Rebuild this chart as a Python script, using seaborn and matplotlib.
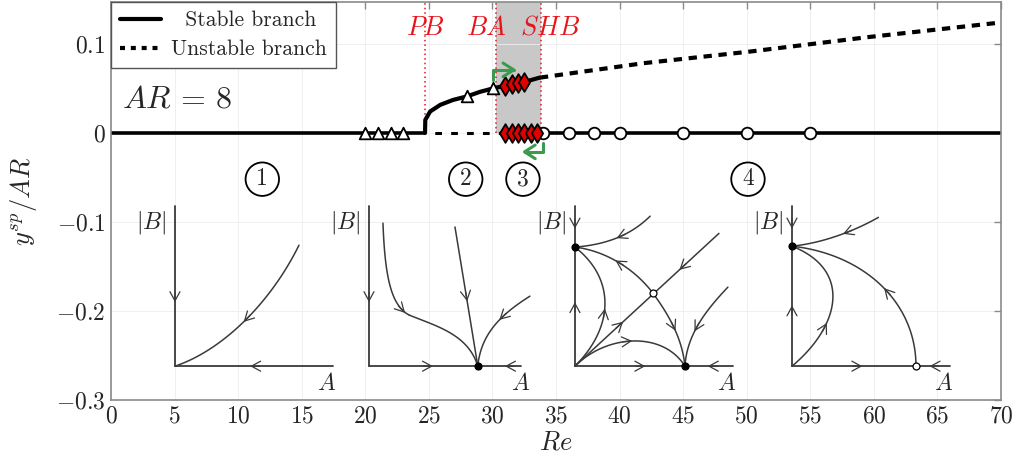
import numpy as np
import pandas as pd
import matplotlib
matplotlib.use("Agg")
import matplotlib.pyplot as plt
from matplotlib.lines import Line2D
from matplotlib.bezier import BezierSegment
import seaborn as sns

# ---------------- bifurcation diagram data: Re vs y_sp/AR ----------------
re_base_left = [0.0, 24.7]
y_base_left = [0.0, 0.0]
re_base_unstable = [24.7, 33.8]
y_base_unstable = [0.0, 0.0]
re_base_right = [33.8, 70.0]
y_base_right = [0.0, 0.0]

re_asym_stable = [24.7, 24.72, 25.1, 25.9, 26.9, 28.0, 29.0, 30.05, 31.0, 32.0, 32.6, 33.7]
y_asym_stable = [0.0, 0.0146, 0.024, 0.0315, 0.037, 0.041, 0.046, 0.050, 0.053, 0.056, 0.0576, 0.062]
re_asym_unstable = [33.7, 41.9, 50.3, 59.5, 70.0]
y_asym_unstable = [0.062, 0.0783, 0.0914, 0.1075, 0.124]

# simulation samples
re_tri_base = [20.0, 21.0, 22.0, 23.0]
y_tri_base = [0.0, 0.0, 0.0, 0.0]
re_tri_asym = [28.0, 30.05]
y_tri_asym = [0.041, 0.050]
re_dia_asym = [31.0, 31.5, 32.0, 32.5]
y_dia_asym = [0.053, 0.0545, 0.056, 0.057]
re_dia_base = [31.0, 31.5, 32.0, 32.5, 33.0, 33.5]
y_dia_base = [0.0, 0.0, 0.0, 0.0, 0.0, 0.0]
re_circ_base = [34.0, 36.0, 38.0, 40.0, 45.0, 50.0, 55.0]
y_circ_base = [0.0, 0.0, 0.0, 0.0, 0.0, 0.0, 0.0]

# bifurcation points
bif_names = ["PB", "BA", "SHB"]
bif_re = [24.7, 30.3, 33.8]
bif_label_re = [24.7, 29.5, 34.5]

region_labels = ["1", "2", "3", "4"]
region_re = [11.9, 27.9, 32.4, 50.1]

x_ticks = list(range(0, 71, 5))
y_ticks = [-0.3, -0.2, -0.1, 0.0, 0.1]

INK = "#3a3a3a"
RED = "#e8141c"
GREEN = "#3c9a4e"

sns.set_theme(style="white")
plt.rcParams.update({
    "font.family": "serif",
    "font.serif": ["cmr10", "DejaVu Serif"],
    "mathtext.fontset": "cm",
    "axes.formatter.use_mathtext": True,
    "axes.unicode_minus": True,
})

fig = plt.figure(figsize=(10.25, 4.65), dpi=100)
ax = fig.add_axes([111 / 1025, 65 / 465, 890 / 1025, 398 / 465])
ax.set_xlim(0, 70)
ax.set_ylim(-0.3, 0.147)

ax.set_xticks(x_ticks)
ax.set_yticks(y_ticks)
ax.set_yticklabels(["$-0.3$", "$-0.2$", "$-0.1$", "$0$", "$0.1$"])
ax.set_xticklabels([f"${t}$" for t in x_ticks])
ax.tick_params(direction="in", top=True, right=True, length=5, width=1,
               color="#8a8a8a", labelsize=17, pad=4)
ax.grid(True, color="#ececec", lw=0.6)
for s in ax.spines.values():
    s.set_color("#8a8a8a")
    s.set_linewidth(1.2)

# shaded bistable window and bifurcation markers
top = ax.get_ylim()[1]
ax.fill_between([bif_re[1], bif_re[2]], 0, top, color="#c8c8c8", lw=0, zorder=0.5)
ax.vlines(bif_re, 0, top, colors=RED, linestyles=(0, (1, 2)), lw=1.1, zorder=0.6)
for name, xr in zip(bif_names, bif_label_re):
    ax.text(xr, 0.118, f"${name}$", color=RED, fontsize=19, ha="center", va="center")

# branches
def branch(xs, ys, **kw):
    df = pd.DataFrame({"Re": xs, "y": ys})
    sns.lineplot(data=df, x="Re", y="y", ax=ax, color="black", estimator=None,
                 sort=False, errorbar=None, legend=False, **kw)

solid = dict(linewidth=2.6, solid_capstyle="butt")
branch(re_base_left, y_base_left, zorder=2, **solid)
branch(re_base_right, y_base_right, zorder=2, **solid)
branch(re_asym_stable, y_asym_stable, zorder=2, linewidth=3.0)
branch(re_base_unstable, y_base_unstable, zorder=2, linewidth=2.2, linestyle=(2, (2.2, 3.0)))
branch(re_asym_unstable, y_asym_unstable, zorder=2, linewidth=3.0, linestyle=(3.5, (2.0, 1.6)))

# simulation markers
def markers(xs, ys, marker, face, s):
    sns.scatterplot(x=xs, y=ys, ax=ax, marker=marker, s=s, color=face,
                    edgecolor="black", linewidth=1.3, zorder=4, legend=False)

markers(re_tri_base, y_tri_base, "^", "white", 70)
markers(re_tri_asym, y_tri_asym, "^", "white", 70)
markers(re_circ_base, y_circ_base, "o", "white", 70)
markers(re_dia_base, y_dia_base, "d", "#e00000", 90)
markers(re_dia_asym, y_dia_asym, "d", "#e00000", 90)

# hysteresis arrows
ax.annotate("", xy=(31.9, 0.0708), xytext=(30.05, 0.0596),
            arrowprops=dict(arrowstyle="->,head_length=0.55,head_width=0.35", color=GREEN, lw=2.2,
                            connectionstyle="angle,angleA=90,angleB=0,rad=0",
                            shrinkA=0, shrinkB=0, mutation_scale=14), zorder=5)
ax.annotate("", xy=(32.3, -0.0213), xytext=(34.0, -0.0112),
            arrowprops=dict(arrowstyle="->,head_length=0.55,head_width=0.35", color=GREEN, lw=2.2,
                            connectionstyle="angle,angleA=90,angleB=0,rad=0",
                            shrinkA=0, shrinkB=0, mutation_scale=14), zorder=5)

ax.text(0.9, 0.037, "$AR\\,=\\,8$", fontsize=23, ha="left", va="center")

for lab, xr in zip(region_labels, region_re):
    ax.text(xr, -0.052, lab, fontsize=17, ha="center", va="center",
            bbox=dict(boxstyle="circle,pad=0.24", fc="none", ec="black", lw=1.3))

ax.set_xlabel("$Re$", fontsize=19, labelpad=2)
ax.set_ylabel("$y^{sp}/AR$", fontsize=19, labelpad=12)

handles = [Line2D([], [], color="black", lw=3.0),
           Line2D([], [], color="black", lw=3.0, ls=(0, (1.2, 1.4)))]
leg = ax.legend(handles, ["  Stable branch", "Unstable branch"], loc="upper left",
                bbox_to_anchor=(0, 1), borderaxespad=0, fontsize=15.5, handlelength=1.9,
                handletextpad=0.5, borderpad=0.4, labelspacing=0.45, fancybox=False,
                framealpha=1)
leg.get_frame().set_edgecolor("#555555")
leg.get_frame().set_linewidth(1.0)
leg.set_zorder(6)

# ---------------- phase portraits in the (A, |B|) plane ----------------
inset_origin_re = [5.03, 20.29, 36.49, 53.56]
inset_origin_y = -0.262
unit_re = 160 * 70 / 890
unit_y = 160 * 0.447 / 398


def make_inset(ore):
    x0, x1, y0, y1 = -0.3, 1.15, -0.2, 1.1
    iax = ax.inset_axes([ore + x0 * unit_re, inset_origin_y + y0 * unit_y,
                         (x1 - x0) * unit_re, (y1 - y0) * unit_y], transform=ax.transData)
    iax.set_xlim(x0, x1)
    iax.set_ylim(y0, y1)
    iax.set_axis_off()
    iax.patch.set_visible(False)
    iax.set_zorder(3)
    return iax


def chevron(iax, p, d, size=0.03):
    d = np.asarray(d, float)
    d = d / np.hypot(*d)
    p = np.asarray(p, float)
    iax.annotate("", xy=p + size * d, xytext=p - size * d,
                 arrowprops=dict(arrowstyle="->,head_length=0.55,head_width=0.3", color=INK,
                                 lw=0.9, shrinkA=0, shrinkB=0, mutation_scale=12))


def curve(iax, ctrl, arrows=()):
    seg = BezierSegment(np.asarray(ctrl, float))
    pts = seg(np.linspace(0, 1, 80))
    iax.plot(pts[:, 0], pts[:, 1], color=INK, lw=1.1, solid_capstyle="round")
    for t, sgn in arrows:
        d = seg(np.array([t + 0.01]))[0] - seg(np.array([t - 0.01]))[0]
        chevron(iax, seg(np.array([t]))[0], sgn * d)


def frame(iax, xend, v_arrows, h_arrows):
    iax.plot([0, 0], [0, 1.0], color=INK, lw=1.3)
    iax.plot([0, xend], [0, 0], color=INK, lw=1.3)
    for y, sgn in v_arrows:
        chevron(iax, (0, y), (0, sgn))
    for x, sgn in h_arrows:
        chevron(iax, (x, 0), (sgn, 0))
    iax.text(-0.15, 0.9, "$|B|$", fontsize=17, ha="center", va="center")
    iax.text(0.95, -0.11, "$A$", fontsize=17, ha="center", va="center")


def dot(iax, p, filled):
    iax.plot([p[0]], [p[1]], marker="o", ms=5.0, mfc="black" if filled else "white",
             mec="black", mew=0.9, zorder=5)


# region 1: single attractor at the origin
p1 = make_inset(inset_origin_re[0])
frame(p1, 0.99, [(0.43, -1)], [(0.5, -1)])
curve(p1, [(0, 0), (0.3, 0.1), (0.6, 0.4), (0.775, 0.756)], [(0.52, -1)])

# region 2: asymmetric node on the A axis
p2 = make_inset(inset_origin_re[1])
frame(p2, 0.95, [(0.43, -1)], [(0.37, 1), (0.88, -1)])
curve(p2, [(0.0875, 0.894), (0.10, 0.55), (0.14, 0.38), (0.25, 0.32)], [(0.85, 1)])
curve(p2, [(0.25, 0.32), (0.42, 0.25), (0.62, 0.2), (0.68, 0.0)])
curve(p2, [(0.5375, 0.87), (0.585, 0.58), (0.633, 0.29), (0.68, 0.0)], [(0.5, 1)])
curve(p2, [(1.006, 0.4375), (0.82, 0.32), (0.70, 0.2), (0.68, 0.0)], [(0.35, 1)])
dot(p2, (0.68, 0.0), True)

# region 3: bistability separated by a saddle
p3 = make_inset(inset_origin_re[2])
frame(p3, 0.99, [(0.89, -1), (0.37, 1)], [(0.41, 1), (0.86, -1)])
curve(p3, [(0, 0.744), (0.2, 0.76), (0.35, 0.82), (0.47, 0.9375)], [(0.55, -1)])
curve(p3, [(0, 0.744), (0.2, 0.72), (0.38, 0.6), (0.4875, 0.456)], [(0.5, -1)])
curve(p3, [(0.4875, 0.456), (0.58, 0.33), (0.67, 0.18), (0.6875, 0.0)], [(0.5, 1)])
curve(p3, [(0, 0), (0.3, 0.277), (0.6, 0.553), (0.9, 0.83)], [(0.31, 1), (0.75, -1)])
curve(p3, [(0, 0), (0.25, 0.25), (0.25, 0.55), (0, 0.744)], [(0.42, 1)])
curve(p3, [(0, 0), (0.2, 0.2), (0.55, 0.22), (0.6875, 0.0)], [(0.45, 1)])
curve(p3, [(0.6875, 0.0), (0.7, 0.2), (0.82, 0.35), (0.956, 0.494)], [(0.45, -1)])
dot(p3, (0, 0.744), True)
dot(p3, (0.6875, 0.0), True)
dot(p3, (0.4875, 0.456), False)

# region 4: symmetric state on the |B| axis
p4 = make_inset(inset_origin_re[3])
frame(p4, 0.99, [(0.89, -1), (0.35, 1)], [(0.41, 1), (0.89, -1)])
curve(p4, [(0, 0.75), (0.2, 0.77), (0.4, 0.85), (0.54, 0.93)], [(0.6, -1)])
curve(p4, [(0, 0), (0.3, 0.25), (0.38, 0.6), (0, 0.75)], [(0.3, 1)])
curve(p4, [(0.775, 0.0), (0.775, 0.4), (0.45, 0.7), (0, 0.75)], [(0.45, 1)])
dot(p4, (0, 0.75), True)
dot(p4, (0.775, 0.0), False)

fig.savefig("out.png", dpi=100)
